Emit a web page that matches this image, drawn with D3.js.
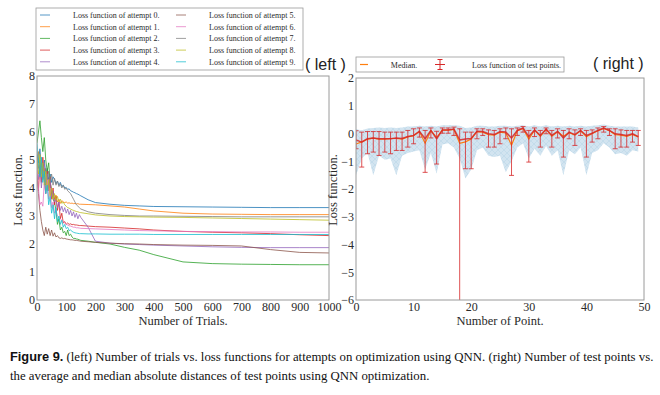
<!DOCTYPE html>
<html>
<head>
<meta charset="utf-8">
<script src="https://cdn.jsdelivr.net/npm/d3@7"></script>
<style>
  html, body { margin: 0; padding: 0; background: #fff; }
  svg { display: block; }
</style>
</head>
<body>
<div id="chart"></div>
<script>
// left panel: loss per attempt, sampled at these trial numbers
const trials = [0,5,10,15,20,25,30,35,40,45,50,55,60,65,70,75,80,85,90,95,100,105,110,115,120,125,130,135,140,145,150,
  175,200,250,300,350,400,500,600,700,800,900,1000];

const loss0 = [5.2,4.9,5.4,4.8,4.6,5.0,4.5,4.7,4.3,4.5,4.2,4.4,4.3,4.15,4.25,4.1,4.2,4.05,4.1,4.0,4.02,3.95,3.97,3.9,3.88,3.85,3.83,3.8,3.78,3.75,3.72,
  3.58,3.48,3.42,3.38,3.36,3.34,3.33,3.32,3.31,3.3,3.3,3.3];
const loss1 = [4.8,5.3,4.6,4.9,4.3,4.7,4.1,4.4,3.9,4.2,3.8,3.9,3.6,3.75,3.5,3.6,3.45,3.55,3.5,3.48,3.5,3.46,3.47,3.45,3.46,3.44,3.45,3.43,3.44,3.42,3.42,
  3.41,3.4,3.36,3.32,3.25,3.18,3.1,3.07,3.06,3.05,3.05,3.05];
const loss2 = [5.6,6.0,6.4,5.8,5.3,5.8,5.0,4.6,4.9,4.2,3.9,3.6,3.5,3.2,2.7,2.9,2.5,2.6,2.4,2.45,2.3,2.5,2.3,2.35,2.25,2.2,2.2,2.18,2.17,2.15,2.13,
  2.1,2.06,2.0,1.88,1.78,1.62,1.36,1.3,1.28,1.27,1.26,1.26];
const loss3 = [4.6,3.9,4.8,4.2,5.1,4.3,3.8,4.6,3.9,4.4,3.6,4.0,3.4,3.7,3.2,3.5,2.9,3.1,2.75,2.8,2.7,2.75,2.7,2.72,2.69,2.7,2.68,2.68,2.67,2.66,2.66,
  2.64,2.62,2.6,2.57,2.54,2.5,2.45,2.42,2.4,2.37,2.33,2.3];
const loss4 = [5.0,4.3,4.8,4.0,4.6,4.9,4.2,4.5,3.9,4.3,3.7,3.9,3.5,3.6,3.3,3.5,3.2,3.35,3.15,3.3,3.1,3.25,3.05,3.2,3.0,3.15,2.95,3.1,2.9,3.05,2.95,
  2.6,2.1,2.03,2.0,1.98,1.96,1.93,1.9,1.88,1.87,1.87,1.87];
const loss5 = [4.5,3.8,3.2,2.8,2.5,2.3,2.6,2.35,2.55,2.3,2.5,2.28,2.4,2.25,2.3,2.22,2.2,2.22,2.19,2.2,2.18,2.17,2.16,2.15,2.15,2.14,2.13,2.13,2.12,2.11,2.1,
  2.08,2.06,2.03,2.01,2.0,1.98,1.96,1.95,1.93,1.8,1.7,1.68];
const loss6 = [4.8,4.0,3.4,3.5,3.35,4.2,3.8,4.4,3.6,4.0,3.3,3.5,3.1,3.2,3.0,2.95,2.9,2.85,2.8,2.75,2.7,2.68,2.65,2.64,2.62,2.6,2.6,2.58,2.58,2.57,2.56,
  2.55,2.54,2.52,2.5,2.48,2.47,2.45,2.44,2.43,2.43,2.42,2.42];
const loss7 = [5.3,4.7,5.0,4.5,4.8,4.4,4.7,4.3,4.6,4.2,4.5,4.1,4.35,4.1,4.25,4.05,4.15,4.0,4.1,3.95,4.0,3.9,3.85,3.8,3.7,3.6,3.5,3.4,3.35,3.3,3.25,
  3.15,3.1,3.05,3.02,3.0,3.0,2.99,2.98,2.97,2.97,2.97,2.97];
const loss8 = [5.0,4.5,5.2,4.4,4.9,4.1,4.6,3.9,4.3,3.7,4.0,3.6,3.8,3.55,3.7,3.5,3.6,3.45,3.5,3.4,3.35,3.3,3.28,3.25,3.22,3.2,3.18,3.16,3.15,3.13,3.12,
  3.08,3.04,3.0,2.98,2.97,2.96,2.95,2.93,2.91,2.89,2.87,2.85];
const loss9 = [5.6,5.0,4.4,5.1,4.2,4.6,3.8,4.1,3.4,3.7,3.1,3.4,2.9,3.3,2.8,3.0,2.7,2.85,2.6,2.7,2.55,2.6,2.48,2.5,2.45,2.42,2.4,2.39,2.38,2.37,2.37,
  2.36,2.36,2.35,2.35,2.35,2.34,2.34,2.34,2.34,2.34,2.34,2.34];

const attemptLabels = d3.range(10).map(i => `Loss function of attempt ${i}.`);
const attemptColors = ["#1f77b4","#ff7f0e","#2ca02c","#d62728","#9467bd","#8c564b","#e377c2","#7f7f7f","#bcbd22","#17becf"];

const leftXTicks = [0,100,200,300,400,500,600,700,800,900,1000];
const leftYTicks = [0,1,2,3,4,5,6,7,8];

// right panel: test points
const meanLoss = [-0.23,-0.31,-0.19,-0.16,-0.19,-0.19,-0.19,-0.16,-0.18,-0.11,
  -0.07,0.08,-0.19,0.11,-0.19,0.13,0.13,0.16,-0.23,-0.2,
  -0.18,0.08,0.07,-0.01,-0.04,0.07,0.05,-0.16,0.11,0.2,
  -0.11,0.13,-0.07,0.16,-0.07,0.08,-0.16,0.05,-0.04,0.11,
  -0.07,0.01,0.11,0.2,0.11,-0.01,-0.04,-0.07,-0.01,-0.11];
const medianLoss = [-0.38,-0.3,-0.2,-0.17,-0.2,-0.2,-0.18,-0.18,-0.2,-0.12,
  -0.08,0.07,-0.35,0.1,-0.15,0.12,0.12,0.15,-0.35,-0.3,
  -0.2,0.07,0.05,-0.04,-0.06,0.05,0.02,-0.42,0.1,0.18,
  -0.2,0.12,-0.1,0.15,-0.1,0.06,-0.1,0.03,-0.06,0.1,
  -0.12,0.0,0.1,0.18,0.1,-0.04,-0.06,-0.1,-0.03,-0.12];
const errTop = [0.1,0.05,0.07,0.07,0.07,0.05,0.05,0.05,0.05,0.11,
  0.17,0.2,0.11,0.2,0.08,0.2,0.2,0.23,0.17,0.05,
  0.05,0.17,0.17,0.13,0.11,0.17,0.2,0.17,0.2,0.25,
  0.11,0.2,0.11,0.2,0.11,0.17,0.11,0.17,0.13,0.17,
  0.11,0.13,0.2,0.25,0.17,0.17,0.13,0.11,0.11,0.11];
const errBottom = [-0.55,-1.21,-0.73,-0.67,-0.79,-0.67,-0.73,-0.61,-0.61,-0.49,
  -0.37,-0.13,-1.4,-0.16,-1.1,0.01,0.01,-0.07,-6.5,-1.27,
  -1.27,-0.19,-0.07,-0.49,-0.49,-0.37,-0.19,-1.51,-0.07,0.05,
  -1.03,-0.11,-0.49,-0.01,-0.49,-0.16,-0.85,-0.19,-0.43,-0.07,
  -0.85,-0.31,-0.19,0.05,-0.07,-0.55,-0.49,-0.49,-0.31,-0.43];
const bandHigh = [0.15,0.12,0.18,0.2,0.22,0.2,0.22,0.2,0.22,0.25,
  0.25,0.28,0.25,0.28,0.25,0.3,0.3,0.3,0.28,0.2,
  0.22,0.28,0.28,0.25,0.25,0.28,0.28,0.25,0.28,0.3,
  0.25,0.3,0.25,0.3,0.25,0.28,0.25,0.28,0.25,0.28,
  0.25,0.28,0.3,0.32,0.28,0.25,0.25,0.25,0.25,0.22];
const bandLow = [-1.5,-0.9,-0.7,-1.5,-0.8,-0.95,-0.9,-1.5,-0.8,-0.7,
  -0.65,-0.6,-1.3,-0.7,-1.45,-0.4,-0.35,-0.5,-0.9,-1.62,
  -1.3,-0.6,-0.5,-0.8,-0.85,-0.8,-1.4,-1.0,-0.5,-0.35,
  -0.9,-0.55,-0.8,-0.45,-0.8,-0.6,-1.5,-0.6,-0.75,-0.5,
  -1.5,-0.7,-0.6,-0.35,-0.5,-0.75,-0.7,-0.8,-0.6,-0.65];

const rightXTicks = [0,10,20,30,40,50];
const rightYTicks = [-6,-5,-4,-3,-2,-1,0,1,2];

const serif = '"Liberation Serif", "Times New Roman", serif';
const sans = '"Liberation Sans", Arial, sans-serif';
const frameColor = "#9a9a9a";
const textColor = "#2a2a2a";

const svg = d3.select("#chart").append("svg")
  .attr("width", 660).attr("height", 395);

const defs = svg.append("defs");

const styleAxis = g => {
  g.select(".domain").remove();
  g.attr("font-family", serif).attr("font-size", 12);
  g.selectAll(".tick text").attr("fill", textColor);
};

// ---------- left panel ----------
const xL = d3.scaleLinear().domain([0, 1000]).range([37, 329]);
const yL = d3.scaleLinear().domain([0, 8]).range([300, 76]);

defs.append("clipPath").attr("id", "clipL")
  .append("rect").attr("x", 37).attr("y", 76).attr("width", 292).attr("height", 224);

const lossSeries = [loss0, loss1, loss2, loss3, loss4, loss5, loss6, loss7, loss8, loss9];
const lineL = d3.line().x((d, i) => xL(trials[i])).y(d => yL(d));

svg.append("g").attr("clip-path", "url(#clipL)")
  .selectAll("path").data(lossSeries).enter().append("path")
  .attr("d", d => lineL(d))
  .attr("fill", "none")
  .attr("stroke", (d, i) => attemptColors[i])
  .attr("stroke-opacity", 0.8)
  .attr("stroke-width", 1)
  .attr("stroke-linejoin", "round");

svg.append("rect").attr("x", 37).attr("y", 76).attr("width", 292).attr("height", 224)
  .attr("fill", "none").attr("stroke", frameColor).attr("stroke-width", 1);

svg.append("g").attr("transform", "translate(0,300)")
  .call(d3.axisBottom(xL).tickValues(leftXTicks).tickFormat(d3.format("d")).tickSize(0).tickPadding(2))
  .call(styleAxis);
svg.append("g").attr("transform", "translate(37,0)")
  .call(d3.axisLeft(yL).tickValues(leftYTicks).tickSize(0).tickPadding(2))
  .call(styleAxis);

svg.append("text").attr("x", 183).attr("y", 325)
  .attr("text-anchor", "middle").attr("font-family", serif).attr("font-size", 12.5).attr("fill", textColor)
  .text("Number of Trials.");
svg.append("text").attr("transform", "translate(22,190) rotate(-90)")
  .attr("text-anchor", "middle").attr("font-family", serif).attr("font-size", 12.5).attr("fill", textColor)
  .text("Loss function.");

// legend (2 columns x 5 rows)
svg.append("rect").attr("x", 36).attr("y", 8).attr("width", 267).attr("height", 62)
  .attr("fill", "#fff").attr("stroke", "#999").attr("stroke-width", 0.8);
const legL = svg.append("g").selectAll("g").data(attemptLabels).enter().append("g")
  .attr("transform", (d, i) => `translate(${i < 5 ? 40 : 176},${15 + (i % 5) * 11.7})`);
legL.append("line").attr("x1", 0).attr("x2", 10).attr("y1", 0).attr("y2", 0)
  .attr("stroke", (d, i) => attemptColors[i]).attr("stroke-opacity", 0.75).attr("stroke-width", 1);
legL.append("text").attr("x", 33).attr("y", 3)
  .attr("font-family", serif).attr("font-size", 8).attr("fill", textColor)
  .text(d => d);

svg.append("text").attr("x", 305).attr("y", 70)
  .attr("font-family", sans).attr("font-size", 16).attr("fill", "#222")
  .text("( left )");

// ---------- right panel ----------
const xR = d3.scaleLinear().domain([0, 50]).range([356, 644]);
const yR = d3.scaleLinear().domain([-6, 2]).range([300, 78]);
const idx = d3.range(meanLoss.length);

defs.append("clipPath").attr("id", "clipR")
  .append("rect").attr("x", 356).attr("y", 78).attr("width", 288).attr("height", 222);

const hatch = defs.append("pattern").attr("id", "hatch")
  .attr("patternUnits", "userSpaceOnUse").attr("width", 6).attr("height", 6);
hatch.append("path").attr("d", "M0,0 L6,6 M6,0 L0,6")
  .attr("stroke", "#1f77b4").attr("stroke-opacity", 0.15).attr("stroke-width", 0.5);

const plotR = svg.append("g").attr("clip-path", "url(#clipR)");

const band = d3.area().x(i => xR(i)).y0(i => yR(bandLow[i])).y1(i => yR(bandHigh[i]));
plotR.append("path").attr("d", band(idx)).attr("fill", "#1f77b4").attr("fill-opacity", 0.2);
plotR.append("path").attr("d", band(idx)).attr("fill", "url(#hatch)");

const lineMedian = d3.line().x(i => xR(i)).y(i => yR(medianLoss[i]));
const lineMean = d3.line().x(i => xR(i)).y(i => yR(meanLoss[i]));

plotR.append("path").attr("d", lineMedian(idx))
  .attr("fill", "none").attr("stroke", "#ff7f0e").attr("stroke-width", 1.2);

const red = "#d62728";
const bars = plotR.append("g").selectAll("g").data(idx).enter().append("g")
  .attr("stroke", red).attr("stroke-opacity", 0.8).attr("stroke-width", 1);
bars.append("line").attr("x1", i => xR(i)).attr("x2", i => xR(i))
  .attr("y1", i => yR(errTop[i])).attr("y2", i => yR(errBottom[i]));
bars.append("line").attr("x1", i => xR(i) - 2.5).attr("x2", i => xR(i) + 2.5)
  .attr("y1", i => yR(errTop[i])).attr("y2", i => yR(errTop[i]));
bars.append("line").attr("x1", i => xR(i) - 2.5).attr("x2", i => xR(i) + 2.5)
  .attr("y1", i => yR(errBottom[i])).attr("y2", i => yR(errBottom[i]));

plotR.append("path").attr("d", lineMean(idx))
  .attr("fill", "none").attr("stroke", red).attr("stroke-opacity", 0.85).attr("stroke-width", 1.5)
  .attr("stroke-linejoin", "round");

svg.append("rect").attr("x", 356).attr("y", 78).attr("width", 288).attr("height", 222)
  .attr("fill", "none").attr("stroke", frameColor).attr("stroke-width", 1);

svg.append("g").attr("transform", "translate(0,300)")
  .call(d3.axisBottom(xR).tickValues(rightXTicks).tickSize(0).tickPadding(2))
  .call(styleAxis);
svg.append("g").attr("transform", "translate(356,0)")
  .call(d3.axisLeft(yR).tickValues(rightYTicks).tickSize(0).tickPadding(2))
  .call(styleAxis);

svg.append("text").attr("x", 500).attr("y", 325)
  .attr("text-anchor", "middle").attr("font-family", serif).attr("font-size", 12.5).attr("fill", textColor)
  .text("Number of Point.");
svg.append("text").attr("transform", "translate(337,190) rotate(-90)")
  .attr("text-anchor", "middle").attr("font-family", serif).attr("font-size", 12.5).attr("fill", textColor)
  .text("Loss function.");

// right legend
svg.append("rect").attr("x", 356).attr("y", 57).attr("width", 208).attr("height", 15)
  .attr("fill", "#fff").attr("stroke", "#999").attr("stroke-width", 0.8);
svg.append("line").attr("x1", 360).attr("x2", 368).attr("y1", 64.5).attr("y2", 64.5)
  .attr("stroke", "#ff7f0e").attr("stroke-width", 1.2);
svg.append("text").attr("x", 404).attr("y", 67.5).attr("text-anchor", "middle")
  .attr("font-family", serif).attr("font-size", 8).attr("fill", textColor).text("Median.");
const mk = svg.append("g").attr("stroke", red).attr("stroke-width", 1);
mk.append("line").attr("x1", 440).attr("x2", 440).attr("y1", 59.5).attr("y2", 69.5);
mk.append("line").attr("x1", 437.5).attr("x2", 442.5).attr("y1", 59.5).attr("y2", 59.5);
mk.append("line").attr("x1", 437.5).attr("x2", 442.5).attr("y1", 69.5).attr("y2", 69.5);
mk.append("line").attr("x1", 435).attr("x2", 445).attr("y1", 64.5).attr("y2", 64.5);
svg.append("text").attr("x", 472).attr("y", 67.5)
  .attr("font-family", serif).attr("font-size", 8).attr("fill", textColor).text("Loss function of test points.");

svg.append("text").attr("x", 593).attr("y", 69)
  .attr("font-family", sans).attr("font-size", 16).attr("fill", "#222")
  .text("( right )");

// ---------- caption ----------
const cap1 = svg.append("text").attr("x", 10).attr("y", 361).attr("font-size", 12.8).attr("fill", "#111");
cap1.append("tspan").attr("font-family", sans).attr("font-weight", "bold").text("Figure 9.");
cap1.append("tspan").attr("font-family", serif)
  .text(" (left) Number of trials vs. loss functions for attempts on optimization using QNN. (right) Number of test points vs.");
svg.append("text").attr("x", 10).attr("y", 380).attr("font-size", 12.8).attr("fill", "#111")
  .attr("font-family", serif)
  .text("the average and median absolute distances of test points using QNN optimization.");
</script>
</body>
</html>
